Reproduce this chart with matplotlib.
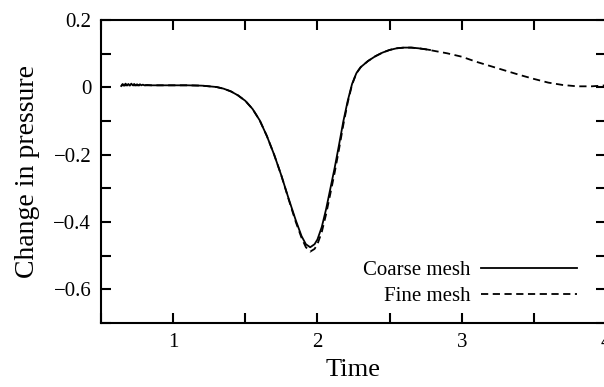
import matplotlib
matplotlib.use("Agg")
import matplotlib.pyplot as plt
from matplotlib.ticker import MultipleLocator

plt.rcParams['font.family'] = ['Liberation Serif', 'DejaVu Serif']

# Coarse mesh
coarse_t = [0.64, 0.65, 0.66, 0.67, 0.68, 0.69, 0.70, 0.71, 0.72, 0.73, 0.74, 0.75,
            0.76, 0.77, 0.78, 0.79, 0.80, 0.82, 0.85, 0.90,
            1.00, 1.10, 1.20, 1.30, 1.35, 1.40, 1.45, 1.50, 1.55, 1.60, 1.65,
            1.70, 1.75, 1.80, 1.85, 1.89, 1.92, 1.95, 1.98, 2.00, 2.03, 2.06,
            2.09, 2.12, 2.15, 2.18, 2.21, 2.24, 2.27, 2.30, 2.35, 2.40, 2.45,
            2.50, 2.55, 2.60, 2.65, 2.70, 2.75, 2.78]
coarse_p = [0.004, 0.010, 0.005, 0.011, 0.006, 0.010, 0.005, 0.011, 0.006, 0.010, 0.006, 0.009,
            0.006, 0.009, 0.006, 0.008, 0.006, 0.007, 0.006, 0.006,
            0.006, 0.006, 0.005, 0.001, -0.004, -0.012, -0.024, -0.040, -0.064, -0.098, -0.145,
            -0.200, -0.262, -0.330, -0.395, -0.442, -0.466, -0.475, -0.466, -0.452, -0.415, -0.362,
            -0.300, -0.238, -0.170, -0.100, -0.040, 0.010, 0.042, 0.060, 0.078, 0.092, 0.103,
            0.111, 0.116, 0.118, 0.118, 0.116, 0.113, 0.111]

# Fine mesh
fine_t = [0.64, 0.80, 0.90, 1.00, 1.10, 1.20, 1.30, 1.35, 1.40, 1.45, 1.50, 1.55,
          1.60, 1.65, 1.70, 1.75, 1.80, 1.85, 1.89, 1.92, 1.95, 1.98, 2.00, 2.03,
          2.06, 2.09, 2.12, 2.15, 2.18, 2.21, 2.24, 2.27, 2.30, 2.35, 2.40, 2.45,
          2.50, 2.55, 2.60, 2.65, 2.70, 2.75, 2.80, 2.90, 3.00, 3.10, 3.20, 3.30,
          3.40, 3.50, 3.60, 3.70, 3.80, 3.90, 4.00]
fine_p = [0.006, 0.006, 0.006, 0.006, 0.006, 0.005, 0.001, -0.004, -0.012, -0.024, -0.040, -0.064,
          -0.098, -0.145, -0.200, -0.262, -0.332, -0.400, -0.447, -0.475, -0.488, -0.480, -0.466, -0.430,
          -0.377, -0.315, -0.252, -0.183, -0.110, -0.045, 0.008, 0.042, 0.060, 0.078, 0.092, 0.103,
          0.111, 0.116, 0.118, 0.118, 0.116, 0.113, 0.109, 0.101, 0.091, 0.076, 0.063, 0.050,
          0.037, 0.025, 0.014, 0.007, 0.003, 0.003, 0.006]

x_ticks = [1, 2, 3, 4]
y_ticks = [-0.6, -0.4, -0.2, 0, 0.2]
y_ticklabels = ['\u22120.6', '\u22120.4', '\u22120.2', '0', '0.2']

fig = plt.figure(figsize=(6.04, 3.87), dpi=100)
ax = fig.add_axes([101/604, 1-323/387, 505/604, 303/387])

ax.plot(fine_t, fine_p, color='black', lw=1.3, linestyle=(0, (4, 2.5)), label='Fine mesh')
ax.plot(coarse_t, coarse_p, color='black', lw=1.3, label='Coarse mesh')

ax.set_xlim(0.5, 4.0)
ax.set_ylim(-0.7, 0.2)
ax.set_xticks(x_ticks)
ax.set_xticklabels([str(v) for v in x_ticks])
ax.set_yticks(y_ticks)
ax.set_yticklabels(y_ticklabels)
ax.xaxis.set_minor_locator(MultipleLocator(0.5))
ax.yaxis.set_minor_locator(MultipleLocator(0.1))
for s in ax.spines.values():
    s.set_linewidth(1.5)
ax.tick_params(which='both', direction='in', top=True, right=True, length=7, width=1.5, labelsize=15)
ax.tick_params(axis='x', pad=7)
ax.tick_params(axis='y', pad=7)

ax.set_xlabel('Time', fontsize=19, labelpad=5)
ax.set_ylabel('Change in pressure', fontsize=20, labelpad=10)

h, l = ax.get_legend_handles_labels()
ax.legend(h[::-1], l[::-1], loc='lower right', bbox_to_anchor=(577/604, 1-306/387),
          bbox_transform=fig.transFigure, frameon=False, markerfirst=False,
          fontsize=15, handlelength=4.6, handletextpad=0.5, borderpad=0, borderaxespad=0,
          labelspacing=0.3)

fig.savefig('out.png', dpi=100)
